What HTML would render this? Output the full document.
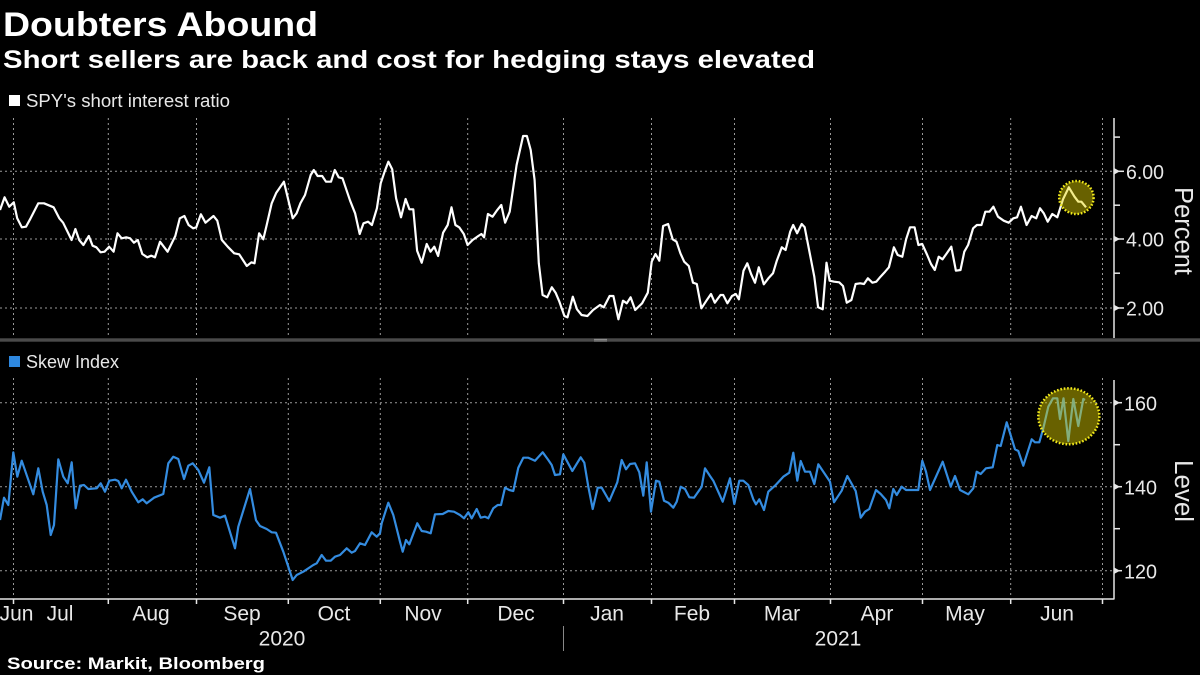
<!DOCTYPE html>
<html><head><meta charset="utf-8"><style>
html,body{margin:0;padding:0;background:#000;}
svg{display:block;}
text{font-family:"Liberation Sans",sans-serif;}
</style></head><body>
<svg width="1200" height="675" viewBox="0 0 1200 675" xmlns="http://www.w3.org/2000/svg">
<rect width="1200" height="675" fill="#000"/>
<!-- titles -->
<text x="3" y="36" font-size="34" font-weight="bold" fill="#fff" textLength="315" lengthAdjust="spacingAndGlyphs">Doubters Abound</text>
<text x="3" y="68" font-size="25" font-weight="bold" fill="#fff" textLength="812" lengthAdjust="spacingAndGlyphs">Short sellers are back and cost for hedging stays elevated</text>

<!-- top legend -->
<rect x="9" y="95" width="11" height="11" fill="#fff"/>
<text x="26" y="107" font-size="18.5" fill="#e8e8e8" textLength="204" lengthAdjust="spacingAndGlyphs">SPY's short interest ratio</text>

<!-- grids -->
<g stroke="#9a9a9a" stroke-width="1" stroke-dasharray="2,3" fill="none">
  <line x1="0" y1="171.3" x2="1114" y2="171.3"/>
  <line x1="0" y1="239" x2="1114" y2="239"/>
  <line x1="0" y1="308" x2="1114" y2="308"/>
  <line x1="0" y1="402.7" x2="1114" y2="402.7"/>
  <line x1="0" y1="486.7" x2="1114" y2="486.7"/>
  <line x1="0" y1="570.7" x2="1114" y2="570.7"/>
  <g id="vg">
    <line x1="13.5" y1="118" x2="13.5" y2="338"/>
    <line x1="108.3" y1="118" x2="108.3" y2="338"/>
    <line x1="196.5" y1="118" x2="196.5" y2="338"/>
    <line x1="288.3" y1="118" x2="288.3" y2="338"/>
    <line x1="380.3" y1="118" x2="380.3" y2="338"/>
    <line x1="467.7" y1="118" x2="467.7" y2="338"/>
    <line x1="563.5" y1="118" x2="563.5" y2="338"/>
    <line x1="651.5" y1="118" x2="651.5" y2="338"/>
    <line x1="734.5" y1="118" x2="734.5" y2="338"/>
    <line x1="830.5" y1="118" x2="830.5" y2="338"/>
    <line x1="922.5" y1="118" x2="922.5" y2="338"/>
    <line x1="1010.7" y1="118" x2="1010.7" y2="338"/>
    <line x1="1102.5" y1="118" x2="1102.5" y2="338"/>
  </g>
  <line x1="13.5" y1="378" x2="13.5" y2="598"/>
  <line x1="108.3" y1="378" x2="108.3" y2="598"/>
  <line x1="196.5" y1="378" x2="196.5" y2="598"/>
  <line x1="288.3" y1="378" x2="288.3" y2="598"/>
  <line x1="380.3" y1="378" x2="380.3" y2="598"/>
  <line x1="467.7" y1="378" x2="467.7" y2="598"/>
  <line x1="563.5" y1="378" x2="563.5" y2="598"/>
  <line x1="651.5" y1="378" x2="651.5" y2="598"/>
  <line x1="734.5" y1="378" x2="734.5" y2="598"/>
  <line x1="830.5" y1="378" x2="830.5" y2="598"/>
  <line x1="922.5" y1="378" x2="922.5" y2="598"/>
  <line x1="1010.7" y1="378" x2="1010.7" y2="598"/>
  <line x1="1102.5" y1="378" x2="1102.5" y2="598"/>
</g>

<!-- top series -->
<polyline fill="none" stroke="#fff" stroke-width="2.2" stroke-linejoin="round" points="0,210 4.6,197.3 9.2,206.7 13.8,202.3 17.2,218.3 21.8,227.3 26,226.7 30.6,218.3 38.3,203.3 44,203.3 53.6,207.3 59.3,218.3 63.1,222.7 71.6,240 75.4,229 79.2,240 83.4,245 88.8,236 92.6,245.7 96.4,247.3 100.6,252.3 104.5,251.7 109.1,246.7 113.6,251.7 117.5,233.3 121.7,238.3 126.3,237.3 130.1,238.3 133.9,242.7 137.8,240 142.3,254 147.3,257.3 151.2,255.7 155,257.3 160,241.7 167.6,251.7 175.3,236 179.8,218.3 184.4,216 188.6,225 193.2,228.3 196.3,227.3 200.9,214.3 205.5,222.7 213.5,216 217.3,220.7 221.9,240 227.7,246.7 234.2,253.3 239.2,254.3 246.8,266 251.4,262.3 254.5,263.3 259.1,233.3 263.3,239.3 266.7,225 271.7,203.3 276.3,192.7 283.9,181.7 292.7,218.3 296.6,213.3 300.4,203.3 305,195 310.7,175 313.8,170 317.6,176 322.2,176 326,181.7 331,181.7 334.8,170 338.7,177.3 342.5,178.3 350.1,200.7 355.1,213.3 359.7,234 363.5,223.3 368.1,221.7 371.9,225 376.9,208.3 380.7,183.3 384.6,171.7 388.4,161.7 392.2,169.3 396.1,198.3 401,217.3 405.6,199 409.4,209.3 413.3,209.3 417.1,250.7 421.7,262.7 426.7,244 430.5,251.7 434.3,246.7 438.1,256 443.1,232.7 447.7,225 451.5,207.3 455.4,225 459.2,227.3 463.8,234 467.6,245 472.6,240 478.3,236 481.4,234 484.1,237.3 487.9,214 492.5,216.7 496.7,210.7 501.3,205 505.1,222.7 509.7,211.7 516.6,165 523.1,136 526.9,136 530.7,150 534.6,180 538.8,263.3 542.6,295 547.2,297.3 551.8,287.3 555.6,292.7 559.4,301.7 564.4,316 567.5,317.3 572.8,296.7 577,309.3 581.6,315 587.4,316 593.1,310 600,305 603.8,307.3 609.6,296 613.4,296 618.4,319.3 623,300.7 626.8,303.3 630.6,297.3 635.2,310 642.1,303.3 647.8,292.7 651.7,261.7 655.5,254 659.3,260.7 663.1,226 668.1,224 672.7,239.3 676.5,241.7 680.4,253.3 684.2,261.7 688.8,266 693,282.7 696.8,284 701.4,308.3 706.4,300.7 711,294 714.8,302.7 720.5,295 723.2,295 727.4,303.3 732,296 735.8,294 738.9,299.3 743.5,270.7 747.3,263.3 751.1,274 755,282.7 758.8,267.3 763.8,284.3 768.4,278.3 773,273.3 776.8,260.7 781.8,247.3 785.6,250 790.2,231.7 793.2,225 797.1,233.3 801.7,224 804.7,227.3 814.3,276.7 818.1,307.3 822.7,309.3 826.5,262.7 829.6,280.7 834.2,281.7 839.2,282.3 843,286 846.8,302.7 851.4,300 855.6,284 860.2,283.3 864,284 867.9,278.3 872.4,282.7 876.3,281.7 880.5,276.7 885.1,271.7 888.9,267.3 893.9,247.3 897.7,255 902.3,256.7 906.1,239.3 910,227.3 914.6,227.3 918.4,245 922.2,244 927.2,255 931,264 934.8,270 938.7,256.7 942.5,259.3 946.3,254 951.3,246.7 955.9,270.7 960.5,270 964.3,251.7 968.1,245 973.1,228.3 976.9,225 981.5,225 985.3,211.7 989.5,211.7 993.4,206.7 998,216.7 1003.7,220.7 1008.7,222.7 1013.3,218.3 1017.1,217.3 1020.9,206.7 1026.6,225 1031.6,216 1036.2,218.3 1040,208.3 1043.8,213.3 1047.7,221.7 1052.3,214 1057.3,217.3 1063,199.3 1068.8,187.3 1074.5,196.7 1078.3,201.7 1081.4,201.7 1086,207.3"/>
<ellipse cx="1076.4" cy="197.5" rx="17.2" ry="16.5" fill="#e6d800" fill-opacity="0.45" stroke="#f2ea1c" stroke-width="2.5" stroke-dasharray="1.6,1.8"/>

<!-- top axis -->
<g stroke="#e6e6e6" stroke-width="1.5" fill="#e6e6e6">
  <line x1="1114" y1="118" x2="1114" y2="338"/>
  <line x1="1114" y1="137.1" x2="1120" y2="137.1"/>
  <line x1="1114" y1="205.2" x2="1120" y2="205.2"/>
  <line x1="1114" y1="273.2" x2="1120" y2="273.2"/>
  <line x1="1114" y1="171.3" x2="1124" y2="171.3"/>
  <line x1="1114" y1="239" x2="1124" y2="239"/>
  <line x1="1114" y1="308" x2="1124" y2="308"/>
  <polygon stroke="none" points="1114,168 1120,171.3 1114,174.6"/>
  <polygon stroke="none" points="1114,235.7 1120,239 1114,242.3"/>
  <polygon stroke="none" points="1114,304.7 1120,308 1114,311.3"/>
</g>
<g font-size="20" fill="#e8e8e8">
  <text x="1126" y="179" textLength="38" lengthAdjust="spacingAndGlyphs">6.00</text>
  <text x="1126" y="246.7" textLength="38" lengthAdjust="spacingAndGlyphs">4.00</text>
  <text x="1126" y="315.7" textLength="38" lengthAdjust="spacingAndGlyphs">2.00</text>
</g>
<text transform="translate(1175,231) rotate(90)" text-anchor="middle" font-size="25.5" fill="#e8e8e8" textLength="88" lengthAdjust="spacingAndGlyphs">Percent</text>

<!-- separator -->
<rect x="0" y="338.3" width="1200" height="3.4" fill="#4a4a4a"/>
<line x1="594" y1="339.3" x2="607" y2="339.3" stroke="#aaa" stroke-width="0.8"/>
<line x1="594" y1="341" x2="607" y2="341" stroke="#aaa" stroke-width="0.8"/>

<!-- bottom legend -->
<rect x="9" y="356" width="11" height="11" fill="#2e88e0"/>
<text x="26" y="368" font-size="18.5" fill="#e8e8e8" textLength="93" lengthAdjust="spacingAndGlyphs">Skew Index</text>

<!-- bottom series -->
<polyline fill="none" stroke="#348ce0" stroke-width="2.2" stroke-linejoin="round" points="0,520 4,497.7 8.3,505 13.3,452.3 17.3,476.7 21.7,460.7 33.3,494.3 38.3,468.3 42.7,491.7 46.7,505 50.7,535 54,525 58.3,459.3 63.3,476.7 67.7,483.3 71.7,462.3 75.7,508.3 80,485.7 84,485 88.3,489 96.7,488.3 100.7,483.3 105,491.7 109.3,480.7 115,479.7 118.3,481 121.7,488.3 126,479.7 131.7,491.7 138.3,502.3 142.7,499.3 146.7,503.3 154,497.7 163.3,494 168.3,463.3 173.3,456.7 178.3,459 184,479 188.3,465.7 192.7,463.3 198.3,470 204,482.7 209.3,467.3 213.3,515 220,517.7 225,515.7 235,548.3 238.3,526.7 250,489 256,520.3 260,526 266.7,529 271.7,532.3 276,532.7 283.3,551.7 292.7,580 296.7,575 303.3,571.7 313.3,565 316.7,563.3 321.7,555 326,560.7 330.7,560.7 335,556.7 340,555 346.7,548.3 351.7,552.7 355,551 360,543.3 365,545 371.7,532.3 376.7,536.7 380,533.3 381.7,523.3 388.3,502.7 393.3,515 400,541.7 402.7,551.7 406,540 409.3,544.3 417.3,523.3 421.7,531 426,531.7 430.7,533.3 435,514.3 442.7,514 448.3,511 454,511.7 460,515 464,518.3 468.3,512.3 471.7,518.3 476.7,509 480.7,517.7 485,516.7 488.3,518.3 493.3,508.3 497.7,505 501,505 505,487.7 509.3,490 513.3,491 518.3,467.7 523.3,457.7 528.3,457.7 535,460.7 542.7,452.3 548.3,460 551.7,465 555,475 560,474.3 563.3,454.3 572.3,471 580.7,457.3 584.3,462.7 588.3,486.7 592.7,509 597.7,487.7 601.7,487.7 609.3,501 617.3,482.3 621.7,460 626,469.3 630,464 635,463.3 639.3,472.3 643.3,495.7 646.7,462.3 651,511.7 656,480.7 659.3,481.7 664,500.7 668.3,502.7 673.3,507.7 676.7,501.7 680.7,486.7 685,489 689.3,497.3 694,497.7 701.7,486.7 705,468.3 710,476 713.3,480.7 722.7,501.7 730,478.3 734.3,504 739.3,480.7 743.3,480.7 748.3,485 753.3,499.3 756,504.3 759.3,499.3 764,510 768.3,491.7 775,485.7 783.3,476.7 789.3,472.7 793.3,452.7 797.3,480.7 800.7,461 805,471.7 810,471.7 814.3,484 818.3,464.3 826.7,476.7 830,481.7 834,502.3 841.7,490.7 847.3,476 855.7,491 860.7,517.7 865,511.7 869.3,509 876,490 880.7,494 886,500 889.3,508.3 893.3,489 896.7,495 901.7,486.7 906,490 918.3,490 922.3,460.7 926,471.7 930,490 942.7,461.7 950.7,486.7 955,476 960,490 968.3,494.3 973.3,488.3 976.7,471.7 980.7,474 986,468.3 992.7,467.3 997.3,445 1000.7,446 1006.7,422.3 1015,449.3 1018.3,451 1023.3,465.7 1031.7,439.3 1035,442.3 1039.3,442.3 1043.3,428.3 1048.3,406.7 1053,398.3 1057.3,398.3 1060,419 1063.5,398.3 1068.3,441 1073.3,399 1078.3,426 1083.3,399 1085,400"/>
<ellipse cx="1068.8" cy="416.3" rx="30.5" ry="28" fill="#e6d800" fill-opacity="0.45" stroke="#f2ea1c" stroke-width="2.5" stroke-dasharray="1.6,1.8"/>

<!-- bottom axis -->
<g stroke="#e6e6e6" stroke-width="1.5" fill="#e6e6e6">
  <line x1="1114" y1="380" x2="1114" y2="599.5"/>
  <line x1="1114" y1="444.7" x2="1120" y2="444.7"/>
  <line x1="1114" y1="528.7" x2="1120" y2="528.7"/>
  <line x1="1114" y1="402.7" x2="1122" y2="402.7"/>
  <line x1="1114" y1="486.7" x2="1122" y2="486.7"/>
  <line x1="1114" y1="570.7" x2="1122" y2="570.7"/>
  <polygon stroke="none" points="1114,399.4 1120,402.7 1114,406"/>
  <polygon stroke="none" points="1114,483.4 1120,486.7 1114,490"/>
  <polygon stroke="none" points="1114,567.4 1120,570.7 1114,574"/>
</g>
<g font-size="20" fill="#e8e8e8">
  <text x="1124" y="410.7" textLength="33" lengthAdjust="spacingAndGlyphs">160</text>
  <text x="1124" y="494.7" textLength="33" lengthAdjust="spacingAndGlyphs">140</text>
  <text x="1124" y="578.7" textLength="33" lengthAdjust="spacingAndGlyphs">120</text>
</g>
<text transform="translate(1175,491) rotate(90)" text-anchor="middle" font-size="25.5" fill="#e8e8e8" textLength="62" lengthAdjust="spacingAndGlyphs">Level</text>

<!-- x axis -->
<g stroke="#e6e6e6" stroke-width="1.5">
  <line x1="0" y1="599" x2="1114" y2="599"/>
  <line x1="13.5" y1="599" x2="13.5" y2="604"/>
  <line x1="108.3" y1="599" x2="108.3" y2="604"/>
  <line x1="196.5" y1="599" x2="196.5" y2="604"/>
  <line x1="288.3" y1="599" x2="288.3" y2="604"/>
  <line x1="380.3" y1="599" x2="380.3" y2="604"/>
  <line x1="467.7" y1="599" x2="467.7" y2="604"/>
  <line x1="563.5" y1="599" x2="563.5" y2="604"/>
  <line x1="651.5" y1="599" x2="651.5" y2="604"/>
  <line x1="734.5" y1="599" x2="734.5" y2="604"/>
  <line x1="830.5" y1="599" x2="830.5" y2="604"/>
  <line x1="922.5" y1="599" x2="922.5" y2="604"/>
  <line x1="1010.7" y1="599" x2="1010.7" y2="604"/>
  <line x1="1102.5" y1="599" x2="1102.5" y2="604"/>
</g>
<g font-size="21" fill="#e8e8e8" text-anchor="middle">
  <text x="16.5" y="620.5">Jun</text>
  <text x="60" y="620.5">Jul</text>
  <text x="151" y="620.5">Aug</text>
  <text x="242" y="620.5">Sep</text>
  <text x="334" y="620.5">Oct</text>
  <text x="423" y="620.5">Nov</text>
  <text x="516" y="620.5">Dec</text>
  <text x="607" y="620.5">Jan</text>
  <text x="692" y="620.5">Feb</text>
  <text x="782" y="620.5">Mar</text>
  <text x="877" y="620.5">Apr</text>
  <text x="965" y="620.5">May</text>
  <text x="1057" y="620.5">Jun</text>
  <text x="282" y="645.5">2020</text>
  <text x="838" y="645.5">2021</text>
</g>
<line x1="563.5" y1="626" x2="563.5" y2="651" stroke="#888" stroke-width="1"/>

<!-- source -->
<text x="7" y="669" font-size="17" font-weight="bold" fill="#fff" textLength="258" lengthAdjust="spacingAndGlyphs">Source: Markit, Bloomberg</text>
</svg>
</body></html>
